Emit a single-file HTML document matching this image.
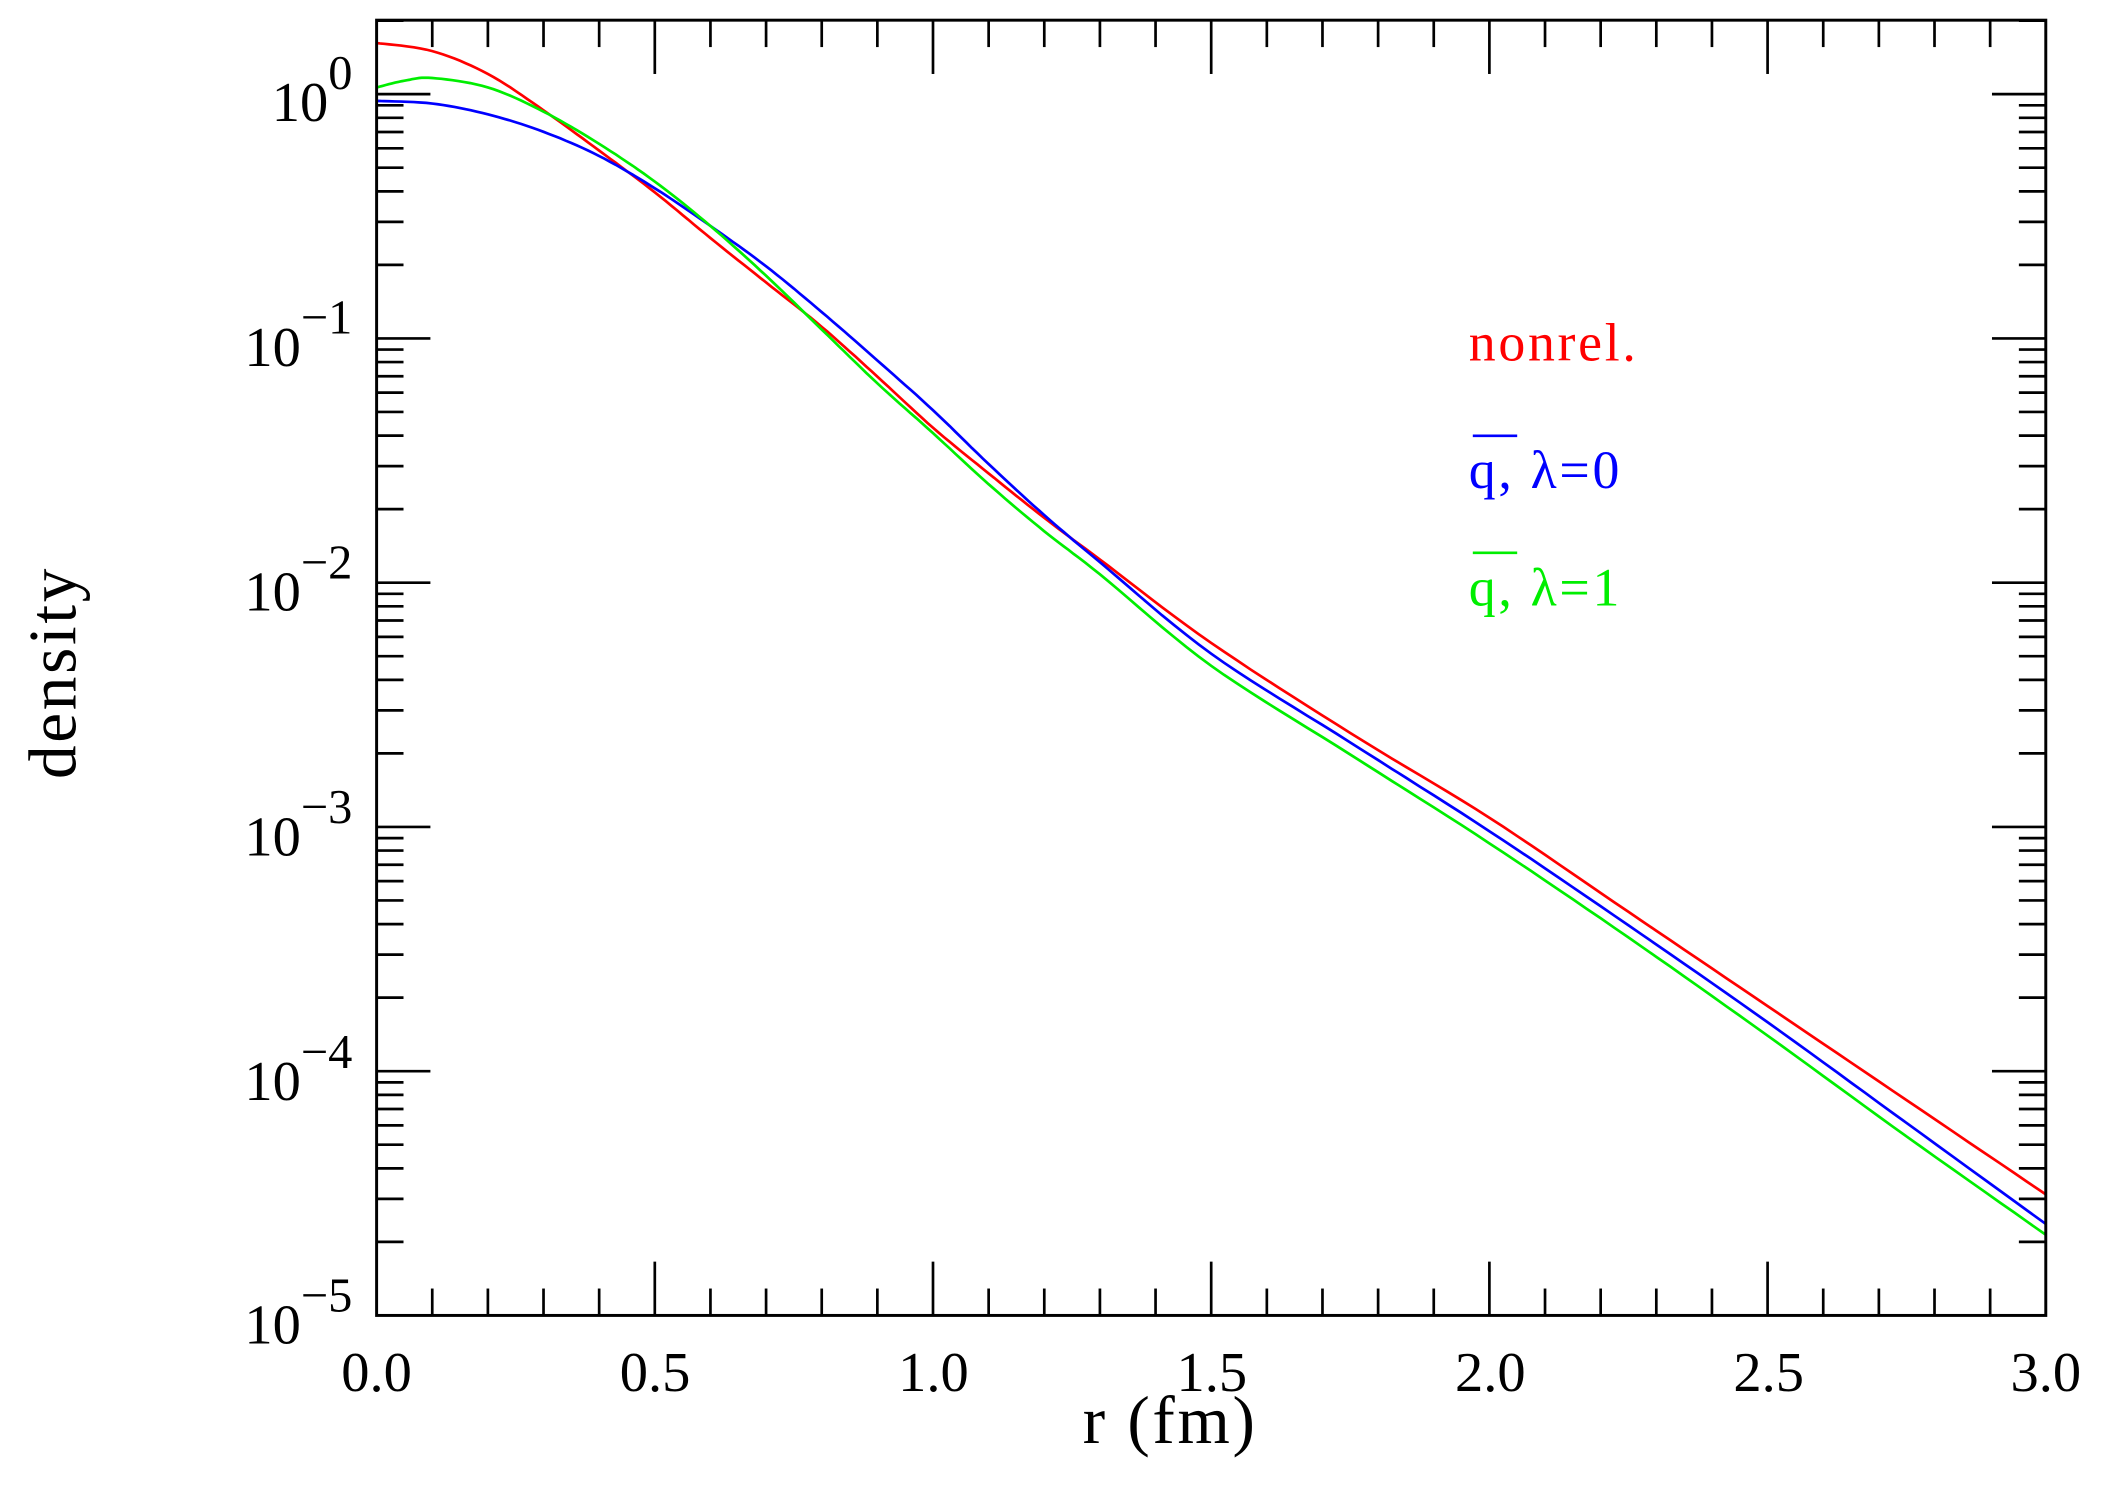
<!DOCTYPE html>
<html><head><meta charset="utf-8"><style>
html,body{margin:0;padding:0;background:#fff}
svg{display:block}
text{font-family:"Liberation Serif","DejaVu Serif",serif}
</style></head><body>
<svg id="s" width="2109" height="1511" viewBox="0 0 1568 1123.4" xmlns="http://www.w3.org/2000/svg">
<rect x="0" y="0" width="1568" height="1124" fill="#fff"/>
<g id="ticks" stroke="#000" stroke-width="2" fill="none"></g>
<g id="curves" fill="none" stroke-width="2"></g>
<rect x="280" y="15" width="1241" height="963" fill="none" stroke="#000" stroke-width="2.2"/>
<g font-size="42" fill="#000">
<text x="280" y="1034" text-anchor="middle">0.0</text>
<text x="487" y="1034" text-anchor="middle">0.5</text>
<text x="694" y="1034" text-anchor="middle">1.0</text>
<text x="901" y="1034" text-anchor="middle">1.5</text>
<text x="1108" y="1034" text-anchor="middle">2.0</text>
<text x="1315" y="1034" text-anchor="middle">2.5</text>
<text x="1521" y="1034" text-anchor="middle">3.0</text>
<text x="870" y="1073" text-anchor="middle" font-size="50" letter-spacing="2">r  (fm)</text>
<text transform="translate(56,500) rotate(-90)" text-anchor="middle" font-size="50" letter-spacing="2">density</text>
<text x="262" y="90" text-anchor="end">10<tspan dy="-24" font-size="36">0</tspan></text>
<text x="262" y="272" text-anchor="end">10<tspan dy="-24" font-size="36">−1</tspan></text>
<text x="262" y="454" text-anchor="end">10<tspan dy="-24" font-size="36">−2</tspan></text>
<text x="262" y="636" text-anchor="end">10<tspan dy="-24" font-size="36">−3</tspan></text>
<text x="262" y="818" text-anchor="end">10<tspan dy="-24" font-size="36">−4</tspan></text>
<text x="262" y="999" text-anchor="end">10<tspan dy="-24" font-size="36">−5</tspan></text>
</g>
<g font-size="40" letter-spacing="2">
<text x="1092" y="268" fill="#ff0000">nonrel.</text>
<text x="1092" y="363" fill="#0000ff">q,  λ=0</text>
<line x1="1095" y1="324" x2="1128" y2="324" stroke="#0000ff" stroke-width="2"/>
<text x="1092" y="450" fill="#00ee00">q,  λ=1</text>
<line x1="1095" y1="411" x2="1128" y2="411" stroke="#00ee00" stroke-width="2"/>
</g>
</svg>
<script>
(function(){
var NS="http://www.w3.org/2000/svg";
var L=280,R=1521,T=15,B=978,y0=70,dec=181.6;
var tg=document.getElementById('ticks');
function ln(x1,y1,x2,y2){var l=document.createElementNS(NS,'line');l.setAttribute('x1',x1);l.setAttribute('y1',y1);l.setAttribute('x2',x2);l.setAttribute('y2',y2);tg.appendChild(l);}
for(var i=1;i<30;i++){var x=L+(R-L)*i/30;var len=(i%5==0)?40:20;ln(x,B,x,B-len);ln(x,T,x,T+len);}
for(var d=-5;d<=0;d++){
 var y=y0+(-d)*dec;
 if(d>-5){ln(L,y,L+40,y);ln(R,y,R-40,y);}
 for(var m=2;m<=9;m++){var yy=y-Math.log10(m)*dec; if(yy<T)break; ln(L,yy,L+20,yy);ln(R,yy,R-20,yy);}
}
var cg=document.getElementById('curves');
function cx(r){return L+(R-L)*r/3;}
var data={
"#ff0000":[[0,32],[0.1,38],[0.2,55],[0.3,82],[0.4,112],[0.5,143],[0.6,177],[0.7,210],[0.8,243],[0.9,280],[1.0,318],[1.1,352],[1.2,385],[1.3,416],[1.5,478],[1.75,545],[2.0,608],[2.25,678],[2.5,748],[2.75,818],[3.0,888]],
"#0000ff":[[0,75],[0.1,77],[0.2,85],[0.3,98],[0.4,116],[0.5,140],[0.6,168],[0.7,198],[0.8,232],[0.9,268],[1.0,305],[1.1,345],[1.2,383],[1.3,418],[1.5,486],[1.75,552],[2.0,618],[2.25,688],[2.5,760],[2.75,835],[3.0,910]],
"#00ee00":[[0,65],[0.05,60],[0.1,58],[0.2,65],[0.3,83],[0.4,107],[0.5,135],[0.6,168],[0.7,205],[0.8,245],[0.9,285],[1.0,322],[1.1,360],[1.2,395],[1.3,427],[1.5,495],[1.75,561],[2.0,627],[2.25,697],[2.5,770],[2.75,845],[3.0,918]]};
for(var c in data){var p=data[c];var pts=[];
 for(var i=0;i<p.length-1;i++){var p0=p[Math.max(0,i-1)],p1=p[i],p2=p[i+1],p3=p[Math.min(p.length-1,i+2)];
  for(var k=0;k<10;k++){var t=k/10,t2=t*t,t3=t2*t;
   var cr=function(a,b,c2,d){return 0.5*(2*b+(-a+c2)*t+(2*a-5*b+4*c2-d)*t2+(-a+3*b-3*c2+d)*t3);};
   pts.push(cx(cr(p0[0],p1[0],p2[0],p3[0])).toFixed(1)+','+cr(p0[1],p1[1],p2[1],p3[1]).toFixed(1));}}
 pts.push(cx(p[p.length-1][0])+','+p[p.length-1][1]);
 var pl=document.createElementNS(NS,'polyline');pl.setAttribute('points',pts.join(' '));pl.setAttribute('stroke',c);cg.appendChild(pl);}
})();
</script>
</body></html>
